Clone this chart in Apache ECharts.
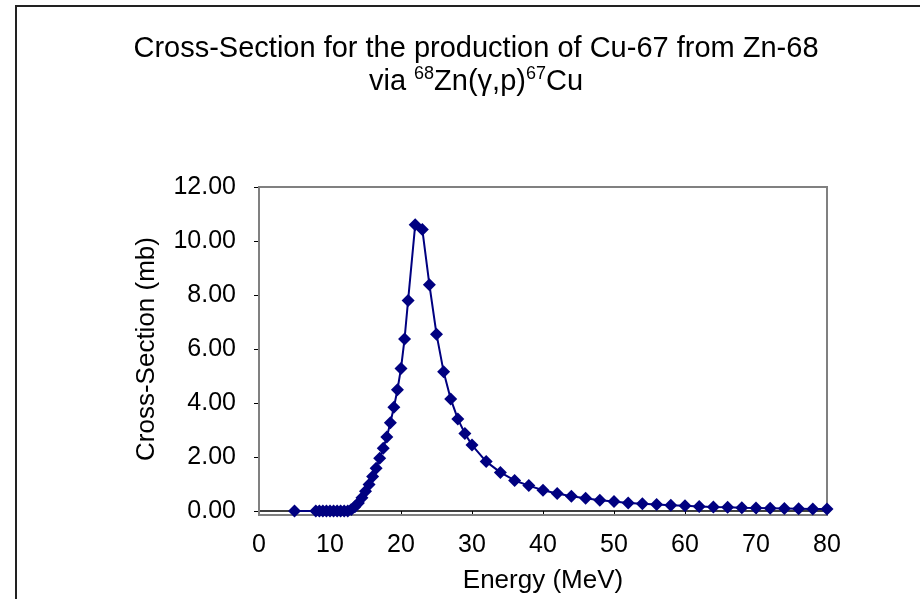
<!DOCTYPE html>
<html>
<head>
<meta charset="utf-8">
<script src="https://cdn.jsdelivr.net/npm/echarts@6/dist/echarts.min.js"></script>
<style>html,body{margin:0;padding:0;background:#fff}#c{width:920px;height:599px}</style>
</head>
<body>
<div id="c"></div>
<script>
const energy = [5, 8, 8.5, 9, 9.5, 10, 10.5, 11, 11.5, 12, 12.5, 13, 13.5, 14, 14.5, 15, 15.5, 16, 16.5, 17, 17.5, 18, 18.5, 19, 19.5, 20, 20.5, 21,
  22, 23, 24, 25, 26, 27, 28, 29, 30, 32, 34, 36, 38, 40, 42, 44, 46, 48, 50, 52, 54, 56, 58, 60, 62, 64, 66, 68, 70, 72, 74, 76, 78, 80];
const crossSection = [0, 0, 0, 0, 0, 0, 0, 0, 0, 0, 0, 0.06, 0.16, 0.30, 0.49, 0.73, 0.98, 1.28, 1.58, 1.95, 2.32, 2.74, 3.27, 3.84, 4.49, 5.28, 6.37, 7.80,
  10.60, 10.43, 8.38, 6.55, 5.16, 4.15, 3.41, 2.87, 2.44, 1.83, 1.43, 1.13, 0.94, 0.77, 0.65, 0.55, 0.47, 0.40, 0.35, 0.30, 0.27, 0.24, 0.21, 0.19, 0.17, 0.15, 0.14, 0.12, 0.11, 0.10, 0.09, 0.08, 0.07, 0.07];
const titleLine1 = 'Cross-Section for the production of Cu-67 from Zn-68';
const xName = 'Energy (MeV)';
const yName = 'Cross-Section (mb)';

const chart = echarts.init(document.getElementById('c'), null, {renderer: 'canvas'});
const font = 'Arial, "Liberation Sans", sans-serif';
chart.setOption({
  animation: false,
  title: {
    text: titleLine1 + '\n{n|via }{s|68}{n|Zn(γ,p)}{s|67}{n|Cu}',
    left: 471, top: 27, textAlign: 'center',
    textStyle: {
      fontFamily: font, fontSize: 29, fontWeight: 'normal', color: '#000', lineHeight: 33,
      rich: {
        n: {fontFamily: font, fontSize: 29, color: '#000', lineHeight: 33},
        s: {fontFamily: font, fontSize: 18, color: '#000', verticalAlign: 'top', padding: [0, 0, 12, 0], lineHeight: 33}
      }
    }
  },
  graphic: [{
    type: 'rect', shape: {x: 16, y: 6, width: 940, height: 640},
    style: {fill: 'none', stroke: '#222', lineWidth: 2}, silent: true
  }, {
    type: 'rect', shape: {x: 259, y: 187, width: 568, height: 328},
    style: {fill: 'none', stroke: '#808080', lineWidth: 2}, silent: true, z: 1
  }],
  grid: {left: 259, top: 187, right: 93, bottom: 84, containLabel: false},
  xAxis: {
    type: 'value', min: 0, max: 80, interval: 10,
    name: xName, nameLocation: 'middle', nameGap: 57,
    nameTextStyle: {fontFamily: font, fontSize: 26, color: '#000'},
    axisLine: {show: true, onZero: false, lineStyle: {color: '#000', width: 1.5}},
    axisTick: {show: true, length: 5, lineStyle: {color: '#000'}},
    axisLabel: {fontFamily: font, fontSize: 25, color: '#000', margin: 22},
    splitLine: {show: false}
  },
  yAxis: {
    type: 'value', min: 0, max: 12, interval: 2,
    name: yName, nameLocation: 'middle', nameGap: 99, nameRotate: 90,
    nameTextStyle: {fontFamily: font, fontSize: 26, color: '#000'},
    axisLine: {show: true, lineStyle: {color: '#808080', width: 2}},
    axisTick: {show: true, length: 5, lineStyle: {color: '#000'}},
    axisLabel: {fontFamily: font, fontSize: 25, color: '#000', margin: 23, formatter: v => v.toFixed(2)},
    splitLine: {show: false}
  },
  series: [{
    type: 'line',
    data: energy.map((e, i) => [e, crossSection[i]]),
    symbol: 'diamond', symbolSize: 13,
    itemStyle: {color: '#000080'},
    lineStyle: {color: '#000080', width: 2},
    z: 3
  }]
});
</script>
</body>
</html>
